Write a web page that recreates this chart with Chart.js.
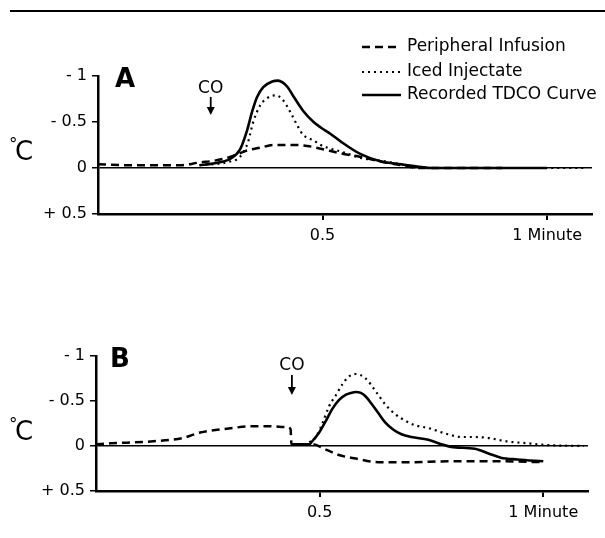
<!DOCTYPE html>
<html>
<head>
<meta charset="utf-8">
<script src="https://cdn.jsdelivr.net/npm/chart.js@4"></script>
<style>
  body { margin: 0; background: #fff; }
  #wrap { position: relative; width: 605px; height: 538px; overflow: hidden; }
  #rule { position: absolute; left: 10px; top: 10px; width: 595px; border-top: 2px solid #000; }
  canvas { position: absolute; left: 0; }
  #chartA { top: 0; }
  #chartB { top: 270px; }
</style>
</head>
<body>
<div id="wrap">
  <div id="rule"></div>
  <canvas id="chartA" width="605" height="270"></canvas>
  <canvas id="chartB" width="605" height="268"></canvas>
</div>
<script>
// axis ticks (minutes / °C, colder is plotted upward)
const ticksX = [0.5, 1];
const tickLabelsX = ['0.5', '1 Minute'];
const ticksY = [-1, -0.5, 0, 0.5];
const tickLabelsY = ['- 1', '- 0.5', '0', '+ 0.5'];
const seriesNames = ['Peripheral Infusion', 'Iced Injectate', 'Recorded TDCO Curve'];

// Panel A
const periphA_t = [0, 0.07, 0.182, 0.226, 0.26, 0.294, 0.332, 0.361, 0.39, 0.435, 0.466, 0.496, 0.54, 0.585, 0.63, 0.675, 0.713, 0.9];
const periphA_c = [-0.04, -0.03, -0.03, -0.06, -0.08, -0.12, -0.19, -0.22, -0.25, -0.25, -0.24, -0.21, -0.16, -0.12, -0.07, -0.03, 0, 0];
const icedA_t = [0.226, 0.294, 0.316, 0.334, 0.345, 0.361, 0.377, 0.395, 0.41, 0.428, 0.444, 0.457, 0.48, 0.496, 0.511, 0.54, 0.585, 0.63, 0.675, 0.72, 1.085];
const icedA_c = [-0.03, -0.07, -0.12, -0.28, -0.49, -0.68, -0.76, -0.79, -0.75, -0.61, -0.46, -0.36, -0.3, -0.25, -0.22, -0.18, -0.11, -0.08, -0.04, 0, 0];
const tdcoA_t = [0.226, 0.256, 0.294, 0.316, 0.332, 0.343, 0.354, 0.368, 0.388, 0.401, 0.411, 0.422, 0.435, 0.457, 0.48, 0.496, 0.518, 0.54, 0.585, 0.63, 0.675, 0.72, 0.742, 1.0];
const tdcoA_c = [-0.03, -0.05, -0.1, -0.2, -0.41, -0.61, -0.77, -0.88, -0.94, -0.95, -0.93, -0.88, -0.78, -0.62, -0.5, -0.44, -0.37, -0.29, -0.15, -0.07, -0.04, -0.01, 0, 0];

// Panel B
const periphB_t = [0, 0.033, 0.122, 0.195, 0.233, 0.306, 0.344, 0.388, 0.426, 0.435, 0.437, 0.483, 0.514, 0.543, 0.581, 0.632, 0.705, 0.787, 0.898, 1.0];
const periphB_c = [-0.02, -0.03, -0.05, -0.09, -0.15, -0.2, -0.22, -0.22, -0.21, -0.19, -0.02, -0.02, 0.04, 0.1, 0.14, 0.18, 0.18, 0.17, 0.17, 0.18];
const icedB_t = [0.477, 0.492, 0.506, 0.521, 0.537, 0.55, 0.565, 0.581, 0.603, 0.625, 0.647, 0.67, 0.692, 0.714, 0.743, 0.787, 0.816, 0.847, 0.876, 0.92, 0.965, 1.009, 1.091];
const icedB_c = [-0.04, -0.1, -0.25, -0.44, -0.57, -0.68, -0.77, -0.8, -0.75, -0.61, -0.46, -0.35, -0.28, -0.23, -0.2, -0.13, -0.1, -0.1, -0.09, -0.05, -0.03, -0.01, 0];
const tdcoB_t = [0.437, 0.477, 0.483, 0.499, 0.514, 0.528, 0.543, 0.559, 0.57, 0.581, 0.592, 0.603, 0.616, 0.632, 0.647, 0.665, 0.683, 0.705, 0.743, 0.772, 0.794, 0.847, 0.876, 0.905, 0.942, 1.0];
const tdcoB_c = [-0.02, -0.02, -0.05, -0.15, -0.28, -0.41, -0.51, -0.57, -0.59, -0.6, -0.59, -0.55, -0.47, -0.36, -0.26, -0.18, -0.13, -0.1, -0.07, -0.02, 0.01, 0.03, 0.08, 0.13, 0.15, 0.17];

const FONT = '"DejaVu Sans", sans-serif';
const lineStyles = [
  { borderDash: [8, 5], borderWidth: 2.5 },
  { borderDash: [2, 4], borderWidth: 2.2 },
  { borderDash: [], borderWidth: 2.6 },
];

function pts(t, c) {
  return t.map((x, i) => ({ x: x, y: c[i] }));
}

// letters, CO arrow, °C, legend
function decor(cfg) {
  return {
    id: 'decor' + cfg.letter,
    afterDraw(chart) {
      const { ctx, chartArea: area, scales } = chart;
      ctx.save();
      ctx.fillStyle = '#000';
      ctx.strokeStyle = '#000';
      ctx.textAlign = 'left';
      ctx.textBaseline = 'alphabetic';

      ctx.font = 'bold 26px ' + FONT;
      ctx.fillText(cfg.letter, area.left + cfg.letterDx, area.top + 11);

      // °C
      ctx.font = '17px ' + FONT;
      ctx.fillText('°', 9, area.top + 74);
      ctx.font = '26px ' + FONT;
      ctx.fillText('C', 15, area.top + 84);

      // CO arrow
      const cx = scales.x.getPixelForValue(cfg.coTime);
      ctx.font = '17px ' + FONT;
      ctx.textAlign = 'center';
      ctx.fillText('CO', cx, area.top + cfg.coBase);
      ctx.lineWidth = 1.8;
      ctx.beginPath();
      ctx.moveTo(cx, area.top + cfg.arrowTop);
      ctx.lineTo(cx, area.top + 33);
      ctx.stroke();
      ctx.beginPath();
      ctx.moveTo(cx - 4, area.top + 31);
      ctx.lineTo(cx + 4, area.top + 31);
      ctx.lineTo(cx, area.top + 39);
      ctx.closePath();
      ctx.fill();

      if (cfg.legend) {
        ctx.font = '17px ' + FONT;
        ctx.textAlign = 'left';
        ctx.textBaseline = 'middle';
        const rows = [47, 72, 95];
        chart.data.datasets.forEach((ds, i) => {
          ctx.lineWidth = ds.borderWidth;
          ctx.setLineDash(ds.borderDash);
          ctx.beginPath();
          ctx.moveTo(362, rows[i]);
          ctx.lineTo(401, rows[i]);
          ctx.stroke();
          ctx.setLineDash([]);
          ctx.fillText(ds.label, 407, rows[i]);
        });
      }
      ctx.restore();
    }
  };
}

function makeChart(id, series, pad, cfg) {
  return new Chart(document.getElementById(id), {
    type: 'line',
    data: {
      datasets: series.map((d, i) => Object.assign({
        label: seriesNames[i],
        data: d,
        borderColor: '#000',
        pointRadius: 0,
        fill: false,
        cubicInterpolationMode: 'monotone',
      }, lineStyles[i]))
    },
    options: {
      responsive: false,
      animation: false,
      devicePixelRatio: 1,
      layout: { padding: pad },
      plugins: { legend: { display: false }, tooltip: { enabled: false } },
      scales: {
        x: {
          type: 'linear',
          min: 0,
          max: 1.1,
          afterBuildTicks: s => { s.ticks = ticksX.map(v => ({ value: v })); },
          afterFit: s => { s.height = 40; s.paddingLeft = 0; s.paddingRight = 0; },
          ticks: {
            callback: (v, i) => tickLabelsX[i],
            color: '#000',
            font: { family: FONT, size: 16 },
            maxRotation: 0,
            autoSkip: false,
            padding: 6,
          },
          grid: { drawOnChartArea: false, color: '#000', tickLength: 6, lineWidth: 2 },
          border: { color: '#000', width: 2.5 },
        },
        y: {
          type: 'linear',
          reverse: true,
          min: -1,
          max: 0.5,
          afterBuildTicks: s => { s.ticks = ticksY.map(v => ({ value: v })); },
          afterFit: s => { s.width = 60; s.paddingTop = 0; s.paddingBottom = 0; },
          ticks: {
            callback: (v, i) => tickLabelsY[i],
            color: '#000',
            font: { family: FONT, size: 16 },
            padding: 5,
          },
          grid: {
            color: c => (c.tick && c.tick.value === 0 ? '#000' : 'rgba(0,0,0,0)'),
            tickColor: '#000',
            tickLength: 6,
            lineWidth: 1.5,
          },
          border: { color: '#000', width: 2.5 },
        }
      }
    },
    plugins: [decor(cfg)]
  });
}

makeChart('chartA',
  [pts(periphA_t, periphA_c), pts(icedA_t, icedA_c), pts(tdcoA_t, tdcoA_c)],
  { left: 38, right: 13, top: 76, bottom: 16 },
  { letter: 'A', letterDx: 17, coTime: 0.251, coBase: 17, arrowTop: 21, legend: true });

makeChart('chartB',
  [pts(periphB_t, periphB_c), pts(icedB_t, icedB_c), pts(tdcoB_t, tdcoB_c)],
  { left: 36, right: 17, top: 86, bottom: 7 },
  { letter: 'B', letterDx: 14, coTime: 0.438, coBase: 14, arrowTop: 19, legend: false });
</script>
</body>
</html>
